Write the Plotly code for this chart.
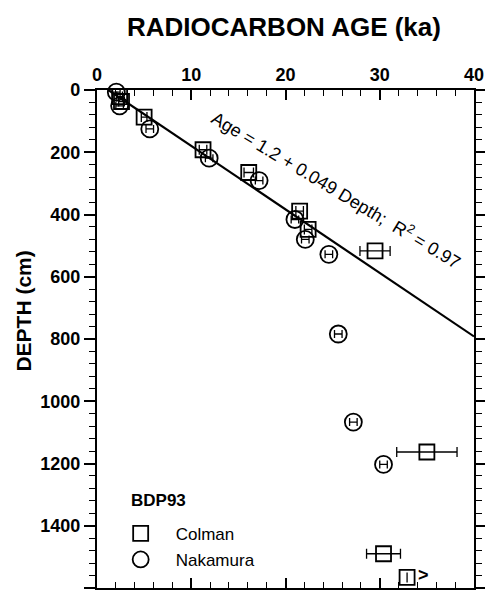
import plotly.graph_objects as go

# ---- data ----
colman_age = [2.4, 2.6, 5.0, 11.25, 16.1, 21.5, 22.4, 29.5, 35.0, 30.4, 32.9]
colman_depth = [21, 37, 87, 192, 265, 389, 448, 517, 1163, 1490, 1566]
colman_err = [0.3, 0.3, 0.3, 0.4, 0.5, 0.4, 0.4, 1.6, 3.2, 1.8, 0.0]

nakamura_age = [2.05, 2.4, 5.6, 11.9, 17.2, 21.0, 22.1, 24.6, 25.6, 27.2, 30.4]
nakamura_depth = [7, 51, 125, 219, 291, 416, 480, 528, 784, 1067, 1203]
nakamura_err = [0.4, 0.4, 0.4, 0.4, 0.4, 0.4, 0.4, 0.4, 0.4, 0.4, 0.4]

fit_intercept = 1.2
fit_slope = 0.049
fit_age = [1.2, 40.0]
fit_depth = [(a - fit_intercept) / fit_slope for a in fit_age]

x_ticks = [0, 10, 20, 30, 40]
y_ticks = [0, 200, 400, 600, 800, 1000, 1200, 1400, 1600]

FONT = "Liberation Sans, Arial, sans-serif"

fig = go.Figure()

fig.add_trace(go.Scatter(
    x=fit_age, y=fit_depth, mode="lines",
    line=dict(color="black", width=2.2), showlegend=False, hoverinfo="skip",
))

fig.add_trace(go.Scatter(
    x=colman_age, y=colman_depth, mode="markers", name="Colman",
    legendgroup="c",
    marker=dict(symbol="square-open", size=15, color="black", line=dict(width=1.8)),
    error_x=dict(type="data", array=colman_err, color="black", thickness=1.3, width=5),
    cliponaxis=False,
))

fig.add_trace(go.Scatter(
    x=nakamura_age, y=nakamura_depth, mode="markers", name="Nakamura",
    legendgroup="n",
    marker=dict(symbol="circle-open", size=17, color="black", line=dict(width=1.8)),
    error_x=dict(type="data", array=nakamura_err, color="black", thickness=1.3, width=4),
    cliponaxis=False,
))

axis_common = dict(showgrid=False, zeroline=False, linecolor="black", linewidth=2.2,
                   tickcolor="black", tickwidth=1.6, mirror="ticks")

# page body has an 8px default margin, so the figure is 8px smaller than the window
fig.update_layout(
    width=485, height=588,
    margin=dict(l=89, r=12, t=82, b=6),
    paper_bgcolor="white", plot_bgcolor="white",
    font=dict(family=FONT, color="black"),
    xaxis=dict(range=[0, 40], side="top", tickvals=x_ticks, ticks="inside", ticklen=10,
               tickfont=dict(family=FONT, size=18, color="black", weight="bold"),
               minor=dict(dtick=2, ticks="inside", ticklen=6, tickcolor="black", tickwidth=1.2),
               **axis_common),
    yaxis=dict(range=[1600, 0], tickvals=y_ticks, ticks="outside", ticklen=11,
               tickfont=dict(family=FONT, size=18, color="black", weight="bold"),
               minor=dict(dtick=40, ticks="outside", ticklen=6, tickcolor="black", tickwidth=1.2),
               **axis_common),
    legend=dict(x=0.023, y=0.145, xanchor="left", yanchor="top", bgcolor="rgba(0,0,0,0)",
                font=dict(size=17, family=FONT), itemwidth=60, tracegroupgap=1,
                traceorder="grouped"),
    showlegend=True,
)

fig.add_annotation(text="<b>RADIOCARBON AGE (ka)</b>", xref="paper", yref="paper",
                   x=0.496, y=1.126, showarrow=False, xanchor="center", yanchor="middle",
                   font=dict(size=26, family=FONT))
fig.add_annotation(text="<b>DEPTH (cm)</b>", xref="paper", yref="paper",
                   x=-0.195, y=0.556, showarrow=False, textangle=-90, xanchor="center",
                   yanchor="middle", font=dict(size=21, family=FONT))
fig.add_annotation(text="<b>BDP93</b>", xref="paper", yref="paper",
                   x=(130 - 97) / 384, y=(590 - 502) / 500, showarrow=False,
                   xanchor="left", yanchor="middle", font=dict(size=17, family=FONT))
fig.add_annotation(text="Age = 1.2 + 0.049 Depth;  R<sup>2</sup> = 0.97", x=25.4, y=320,
                   showarrow=False, textangle=31, font=dict(size=18, family=FONT))
fig.add_annotation(text="<b>></b>", x=34.6, y=1558, showarrow=False,
                   font=dict(size=18, family=FONT))

fig.write_html("out.html", config={"displayModeBar": False})
